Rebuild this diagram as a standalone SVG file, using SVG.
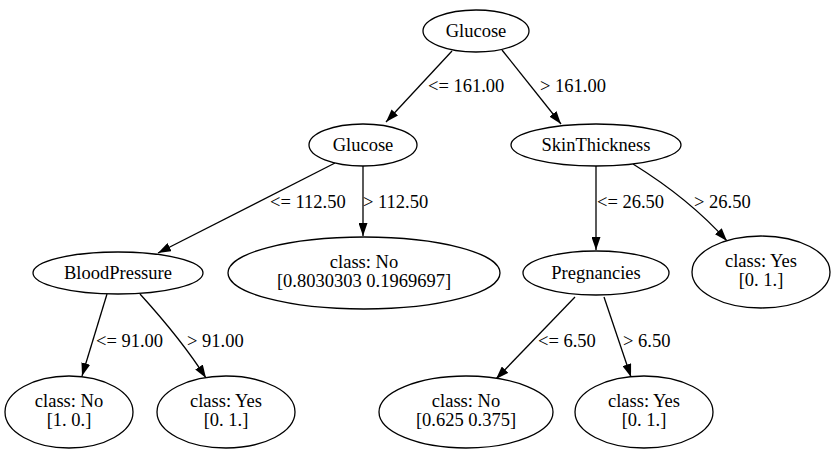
<svg xmlns="http://www.w3.org/2000/svg" width="836" height="454" viewBox="0 0 836 454" font-family="Liberation Serif" font-size="18.5">
<defs>
<style>
text{font-family:'Liberation Serif','Times New Roman',serif;font-size:18.5px;fill:#000}
.n ellipse{fill:#fff;stroke:#000;stroke-width:1.3}
.n text{text-anchor:middle}
.e path{fill:none;stroke:#000;stroke-width:1.3}
</style>
<marker id="ah" viewBox="0 0 13 9" refX="13" refY="4.5" markerWidth="13" markerHeight="9" markerUnits="userSpaceOnUse" orient="auto">
<path d="M0,0 L13,4.5 L0,9 z" fill="#000"/>
</marker>
</defs>
<rect width="836" height="454" fill="#fff"/>
<g id="edges" class="e">
<path d="M452,51 L386,122" marker-end="url(#ah)"/>
<text x="428" y="92">&lt;= 161.00</text>
<path d="M502,50 L561,124" marker-end="url(#ah)"/>
<text x="540" y="92">&gt; 161.00</text>
<path d="M335,163 L158,253" marker-end="url(#ah)"/>
<text x="270" y="208">&lt;= 112.50</text>
<path d="M363,166 L363,236" marker-end="url(#ah)"/>
<text x="363" y="208">&gt; 112.50</text>
<path d="M596,166 L596,250" marker-end="url(#ah)"/>
<text x="597" y="208">&lt;= 26.50</text>
<path d="M633,164 C662,182 695,205 727,241" marker-end="url(#ah)"/>
<text x="694" y="208">&gt; 26.50</text>
<path d="M107,294 L82,376" marker-end="url(#ah)"/>
<text x="96" y="347">&lt;= 91.00</text>
<path d="M140,294 C160,316 185,345 206,378" marker-end="url(#ah)"/>
<text x="187" y="347">&gt; 91.00</text>
<path d="M575,297 L496,379" marker-end="url(#ah)"/>
<text x="538" y="347">&lt;= 6.50</text>
<path d="M604,297 L631,377" marker-end="url(#ah)"/>
<text x="623" y="347">&gt; 6.50</text>
</g>
<g id="n0" class="n"><ellipse cx="476" cy="31" rx="53" ry="21"/><text x="476" y="37">Glucose</text></g>
<g id="n1" class="n"><ellipse cx="363" cy="145" rx="54" ry="21"/><text x="363" y="151">Glucose</text></g>
<g id="n2" class="n"><ellipse cx="596" cy="145" rx="85" ry="21"/><text x="596" y="151">SkinThickness</text></g>
<g id="n3" class="n"><ellipse cx="118" cy="273" rx="85" ry="21"/><text x="118" y="279">BloodPressure</text></g>
<g id="n4" class="n"><ellipse cx="364" cy="273" rx="136" ry="36"/><text x="364" y="268">class: No</text><text x="364" y="287">[0.8030303 0.1969697]</text></g>
<g id="n5" class="n"><ellipse cx="596" cy="273" rx="73" ry="22"/><text x="596" y="279">Pregnancies</text></g>
<g id="n6" class="n"><ellipse cx="761" cy="272" rx="69" ry="36"/><text x="761" y="267">class: Yes</text><text x="761" y="286">[0. 1.]</text></g>
<g id="n7" class="n"><ellipse cx="69" cy="412" rx="64" ry="36"/><text x="69" y="407">class: No</text><text x="69" y="426">[1. 0.]</text></g>
<g id="n8" class="n"><ellipse cx="226" cy="412" rx="69" ry="36"/><text x="226" y="407">class: Yes</text><text x="226" y="426">[0. 1.]</text></g>
<g id="n9" class="n"><ellipse cx="466" cy="412" rx="87" ry="36"/><text x="466" y="407">class: No</text><text x="466" y="426">[0.625 0.375]</text></g>
<g id="n10" class="n"><ellipse cx="644" cy="412" rx="69" ry="36"/><text x="644" y="407">class: Yes</text><text x="644" y="426">[0. 1.]</text></g>
</svg>
